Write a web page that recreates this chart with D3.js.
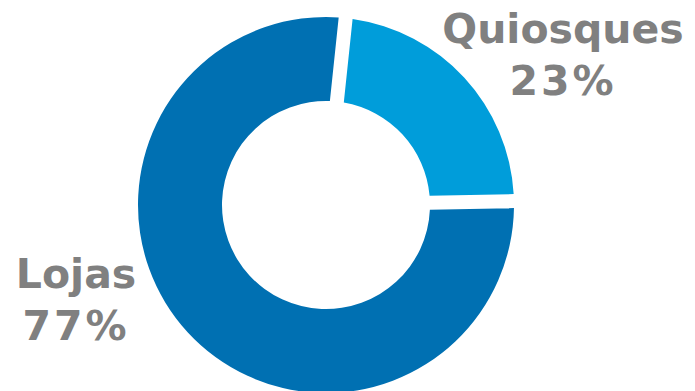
<!DOCTYPE html>
<html>
<head>
<meta charset="utf-8">
<script src="https://cdn.jsdelivr.net/npm/d3@7"></script>
<style>
  html, body { margin: 0; padding: 0; background: #fff; }
  svg { display: block; }
</style>
</head>
<body>
<div id="chart"></div>
<script>
// chart data
var categories = ["Quiosques", "Lojas"];
var shares = [23, 77];
var labels = ["23%", "77%"];
var colors = ["#009DDA", "#0070B2"];

var width = 695, height = 391;
var cx = 326, cy = 205;
var outerR = 188, innerR = 104;

var svg = d3.select("#chart")
    .append("svg")
    .attr("width", width)
    .attr("height", height);

var g = svg.append("g")
    .attr("transform", "translate(" + cx + "," + cy + ")");

var startA = 6 * Math.PI / 180;

var pie = d3.pie()
    .sort(null)
    .value(function(d) { return d; })
    .startAngle(startA)
    .endAngle(startA + 2 * Math.PI);

var arc = d3.arc()
    .innerRadius(innerR)
    .outerRadius(outerR)
    .padRadius(100)
    .padAngle(0.14);

g.selectAll("path")
    .data(pie(shares))
    .enter()
    .append("path")
    .attr("d", arc)
    .attr("fill", function(d, i) { return colors[i]; });

// labels
var labelPos = [
    {x: 563, y: 43},
    {x: 76, y: 288}
];

categories.forEach(function(c, i) {
    var t = svg.append("text")
        .attr("x", labelPos[i].x)
        .attr("y", labelPos[i].y)
        .attr("text-anchor", "middle")
        .attr("font-family", "DejaVu Sans, Verdana, sans-serif")
        .attr("font-weight", "bold")
        .attr("font-size", "41px")
        .attr("fill", "#808080");
    t.append("tspan")
        .attr("x", labelPos[i].x)
        .text(c);
    t.append("tspan")
        .attr("x", labelPos[i].x)
        .attr("dy", 52)
        .attr("letter-spacing", "3px")
        .text(labels[i]);
});
</script>
</body>
</html>
